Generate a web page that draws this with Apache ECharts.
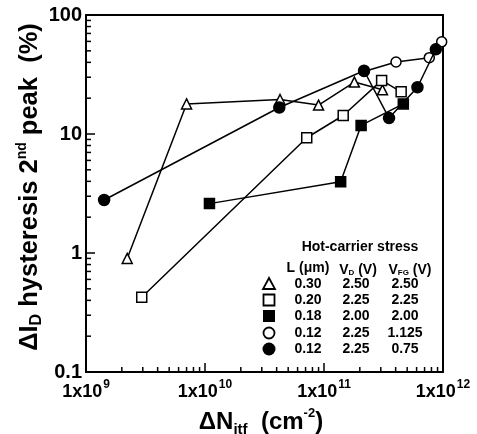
<!DOCTYPE html>
<html><head><meta charset="utf-8">
<script src="https://cdn.jsdelivr.net/npm/echarts@6/dist/echarts.min.js"></script>
<style>html,body{margin:0;padding:0;background:#fff}#c{width:477px;height:434px}</style>
</head><body><div id="c"></div>
<script>
// ---- data ----
var triX = [2.22e9, 7.0e9, 4.27e10, 9.0e10, 1.8e11, 3.1e11];
var triY = [0.90, 17.9, 19.5, 17.5, 27.3, 23.5];
var sqOpenX = [2.94e9, 7.16e10, 1.45e11, 3.05e11, 4.45e11];
var sqOpenY = [0.425, 9.3, 14.3, 28.2, 22.6];
var sqFillX = [1.09e10, 1.38e11, 2.05e11, 4.64e11];
var sqFillY = [2.6, 3.97, 11.8, 17.9];
var cirOpenX = [2.17e11, 4.03e11, 7.67e11, 9.75e11];
var cirOpenY = [33.5, 40.3, 43.8, 59.5];
var cirFillX = [1.42e9, 4.21e10, 2.17e11, 3.52e11, 6.1e11, 8.7e11];
var cirFillY = [2.79, 16.7, 34, 13.6, 24.7, 51.5];

var xMajor = [1e9, 1e10, 1e11, 1e12];
var xExpLabels = ['9', '10', '11', '12'];
var yMajor = [0.1, 1, 10, 100];
var yTickLabels = ['0.1', '1', '10', '100'];
var minorMult = [2, 3, 4, 5, 6, 7, 8, 9];

var legendRows = [
  ['0.30', '2.50', '2.50'],
  ['0.20', '2.25', '2.25'],
  ['0.18', '2.00', '2.00'],
  ['0.12', '2.25', '1.125'],
  ['0.12', '2.25', '0.75']
];

function zip(a, b) { return a.map(function (v, i) { return [v, b[i]]; }); }
function minors(majors) {
  var out = [];
  for (var i = 0; i < majors.length - 1; i++) minorMult.forEach(function (m) { out.push(majors[i] * m); });
  return out;
}
function nearestIdx(arr, v) {
  var best = 0, bd = Infinity;
  arr.forEach(function (m, i) { var d = Math.abs(Math.log(m) - Math.log(v)); if (d < bd) { bd = d; best = i; } });
  return bd < 0.01 ? best : -1;
}
var X0 = xMajor[0], Y0 = yMajor[0];

var FONT = 'Arial, "Liberation Sans", sans-serif';
var chart = echarts.init(document.getElementById('c'), null, { renderer: 'canvas' });

var lineStyle = { color: '#000', width: 1.5 };
function ser(name, x, y, symbol, size, fill, z) {
  return {
    name: name, type: 'line', data: zip(x, y), symbol: symbol, symbolSize: size,
    showAllSymbol: true, lineStyle: lineStyle, z: z,
    itemStyle: { color: fill, borderColor: '#000', borderWidth: 1.5 },
    emphasis: { disabled: true }, animation: false
  };
}

// minor inside tick marks, placed through the axis scales by custom series
function tickSeries(values, isX, len) {
  var data = values.map(function (v) { return isX ? [v, Y0] : [X0, v]; });
  return {
    type: 'custom', data: data,
    renderItem: function (params, api) {
      var p = api.coord([api.value(0), api.value(1)]);
      var shape = isX ? { x: p[0] - 0.75, y: p[1] - len, width: 1.5, height: len }
                      : { x: p[0], y: p[1] - 0.75, width: len, height: 1.5 };
      return { type: 'rect', shape: shape, style: { fill: '#000' } };
    }
  };
}

var G = [];
var rowY = [284, 300, 316, 333, 349];
var colX = [308, 356, 405];
var tstyle = { font: 'bold 14px ' + FONT, fill: '#000', align: 'center', verticalAlign: 'middle' };
G.push({ type: 'text', x: 360, y: 247, style: Object.assign({}, tstyle, { text: 'Hot-carrier stress' }) });
G.push({ type: 'text', x: 308, y: 268, style: Object.assign({}, tstyle, { text: 'L (\u03bcm)' }) });
function subRich() {
  return { a: { font: 'bold 14px ' + FONT, fill: '#000', lineHeight: 18, verticalAlign: 'bottom' },
           s: { font: 'bold 8px ' + FONT, fill: '#000', lineHeight: 18, verticalAlign: 'bottom' } };
}
G.push({ type: 'text', x: 358, y: 268, style: { text: '{a|V}{s|D}{a| (V)}', align: 'center', verticalAlign: 'middle', rich: subRich() } });
G.push({ type: 'text', x: 410, y: 268, style: { text: '{a|V}{s|FG}{a| (V)}', align: 'center', verticalAlign: 'middle', rich: subRich() } });
legendRows.forEach(function (r, i) {
  r.forEach(function (t, j) {
    G.push({ type: 'text', x: colX[j], y: rowY[i], style: Object.assign({}, tstyle, { text: t }) });
  });
});
var sx = 269;
G.push({ type: 'polygon', shape: { points: [[sx, rowY[0] - 6], [sx - 6, rowY[0] + 5], [sx + 6, rowY[0] + 5]] }, style: { fill: '#fff', stroke: '#000', lineWidth: 1.8 } });
G.push({ type: 'rect', shape: { x: sx - 5.5, y: rowY[1] - 5.5, width: 11, height: 11 }, style: { fill: '#fff', stroke: '#000', lineWidth: 1.8 } });
G.push({ type: 'rect', shape: { x: sx - 6, y: rowY[2] - 6, width: 12, height: 12 }, style: { fill: '#000' } });
G.push({ type: 'circle', shape: { cx: sx, cy: rowY[3], r: 5.5 }, style: { fill: '#fff', stroke: '#000', lineWidth: 1.8 } });
G.push({ type: 'circle', shape: { cx: sx, cy: rowY[4], r: 6.5 }, style: { fill: '#000' } });

// axis titles
function titleRich(fs) {
  return { a: { font: 'bold ' + fs + 'px ' + FONT, fill: '#000', lineHeight: 30, verticalAlign: 'middle' },
           s: { font: 'bold ' + Math.round(fs * 0.62) + 'px ' + FONT, fill: '#000', lineHeight: 30, verticalAlign: 'bottom', padding: [12, 0, 0, 0] },
           p: { font: 'bold ' + Math.round(fs * 0.54) + 'px ' + FONT, fill: '#000', lineHeight: 30, verticalAlign: 'top', padding: [0, 0, 10, 0] } };
}
G.push({ type: 'text', x: 30, y: 187, rotation: Math.PI / 2, style: {
  text: '{a|\u0394I}{s|D}{a| hysteresis 2}{p|nd}{a| peak  (%)}', align: 'center', verticalAlign: 'middle', rich: titleRich(25.5) } });
G.push({ type: 'text', x: 261, y: 422, style: {
  text: '{a|\u0394N}{s|itf}{a|  (cm}{p|-2}{a|)}', align: 'center', verticalAlign: 'middle', rich: titleRich(24) } });

var axLine = { show: true, lineStyle: { color: '#000', width: 2 } };
var majorTick = { show: true, inside: true, length: 9, lineStyle: { color: '#000', width: 1.5 } };

var option = {
  animation: false,
  backgroundColor: '#fff',
  grid: { left: 86, top: 15, right: 34, bottom: 62 },
  xAxis: [{
    type: 'log', logBase: 10, min: xMajor[0], max: xMajor[xMajor.length - 1], position: 'bottom',
    splitLine: { show: false }, axisLine: axLine, axisTick: majorTick,
    axisLabel: {
      show: true, margin: 7,
      formatter: function (v) { var i = nearestIdx(xMajor, v); return i < 0 ? '' : '{b|1x10}{e|' + xExpLabels[i] + '}'; },
      rich: { b: { fontFamily: FONT, fontWeight: 'bold', fontSize: 18, color: '#000', lineHeight: 22, verticalAlign: 'bottom' },
              e: { fontFamily: FONT, fontWeight: 'bold', fontSize: 12, color: '#000', lineHeight: 22, verticalAlign: 'top', padding: [0, 0, 0, 1] } }
    }
  }, {
    type: 'log', logBase: 10, min: xMajor[0], max: xMajor[xMajor.length - 1], position: 'top',
    splitLine: { show: false }, axisLine: axLine, axisTick: { show: false }, axisLabel: { show: false }
  }],
  yAxis: [{
    type: 'log', logBase: 10, min: yMajor[0], max: yMajor[yMajor.length - 1], position: 'left',
    splitLine: { show: false }, axisLine: axLine, axisTick: majorTick,
    axisLabel: {
      show: true, margin: 4,
      formatter: function (v) { var i = nearestIdx(yMajor, v); return i < 0 ? '' : yTickLabels[i]; },
      fontFamily: FONT, fontWeight: 'bold', fontSize: 20, color: '#000'
    }
  }, {
    type: 'log', logBase: 10, min: yMajor[0], max: yMajor[yMajor.length - 1], position: 'right',
    splitLine: { show: false }, axisLine: axLine, axisTick: { show: false }, axisLabel: { show: false }
  }],
  series: [
    ser('tri', triX, triY, 'triangle', 10, '#fff', 3),
    ser('sqOpen', sqOpenX, sqOpenY, 'rect', 10, '#fff', 3),
    ser('sqFill', sqFillX, sqFillY, 'rect', 10, '#000', 4),
    ser('cirOpen', cirOpenX, cirOpenY, 'circle', 10, '#fff', 3),
    ser('cirFill', cirFillX, cirFillY, 'circle', 11, '#000', 5),
    tickSeries(minors(xMajor), true, 5),
    tickSeries(minors(yMajor), false, 5)
  ],
  graphic: G
};
chart.setOption(option);
</script></body></html>
